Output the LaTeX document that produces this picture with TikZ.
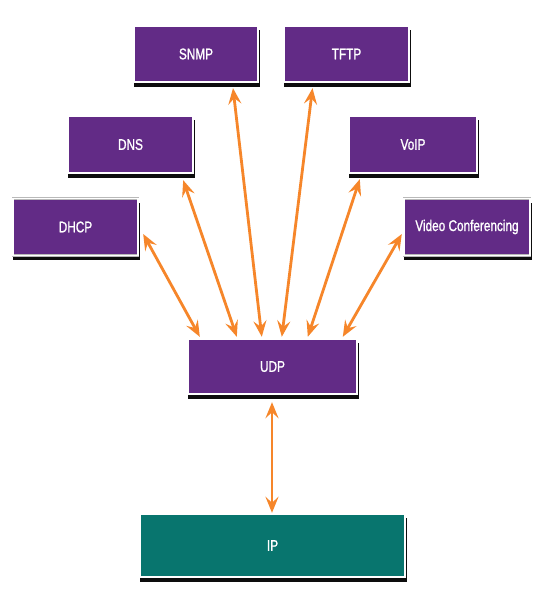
\documentclass[tikz,border=0pt]{standalone}
\usepackage{fontspec}
\setmainfont{Liberation Sans}[FakeStretch=0.76,FakeBold=1.2]
\usetikzlibrary{arrows.meta,shadows,calc}
\definecolor{boxpurple}{RGB}{98,43,134}
\definecolor{boxteal}{RGB}{8,117,110}
\definecolor{arrorange}{RGB}{246,134,42}
\tikzset{
  box/.style={rectangle, inner sep=0pt, fill=boxpurple, draw=gray!55, double=white,
    double distance=1.8pt, line width=0.4pt, text=white,
    font=\fontsize{15.5}{17}\selectfont,
    drop shadow={shadow xshift=1pt, shadow yshift=-4.5pt, shadow scale=1.01, fill=black, opacity=0.95}},
  arr/.style={draw=arrorange, line width=2.8pt,
    {Stealth[length=16pt,width=13pt,inset=6pt]}-{Stealth[length=16pt,width=13pt,inset=6pt]}}
}
\begin{document}
\begin{tikzpicture}[x=1pt,y=-1pt]
\fill[white] (0,0) rectangle (555,603);
\useasboundingbox (0,0) rectangle (555,603);
% boxes
\node[box, minimum width=124pt, minimum height=56pt] (snmp) at (196,54) {SNMP};
\node[box, minimum width=125pt, minimum height=56pt] (tftp) at (346.5,54) {TFTP};
\node[box, minimum width=125pt, minimum height=57pt] (dns) at (130.5,144.5) {DNS};
\node[box, minimum width=128pt, minimum height=57pt] (voip) at (413,144.5) {VoIP};
\node[box, minimum width=125pt, minimum height=57pt] (dhcp) at (75.5,227) {DHCP};
\node[box, minimum width=126pt, minimum height=57pt] (video) at (467,227) {Video Conferencing};
\node[box, minimum width=169pt, minimum height=55pt] (udp) at (272.5,366.5) {UDP};
\node[box, fill=boxteal, minimum width=265pt, minimum height=63pt] (ip) at (272.5,545.5) {IP};
% connectors
\draw[arr] ([shift={(5,7)}]dhcp.east) -- ([shift={(12,-2)}]udp.north west);
\draw[arr] ([shift={(-10,7)}]dns.south east) -- ([shift={(49,-2)}]udp.north west);
\draw[arr] ([shift={(37,6)}]snmp.south) -- ([shift={(74,-2)}]udp.north west);
\draw[arr] ([shift={(-34,6)}]tftp.south) -- ([shift={(94,-2)}]udp.north west);
\draw[arr] ([shift={(11,6)}]voip.south west) -- ([shift={(120,-2)}]udp.north west);
\draw[arr] ([shift={(-2,7)}]video.west) -- ([shift={(155,-2)}]udp.north west);
\draw[arr] ([shift={(-0.5,8)}]udp.south) -- ([shift={(-0.5,-1)}]ip.north);
\end{tikzpicture}
\end{document}
